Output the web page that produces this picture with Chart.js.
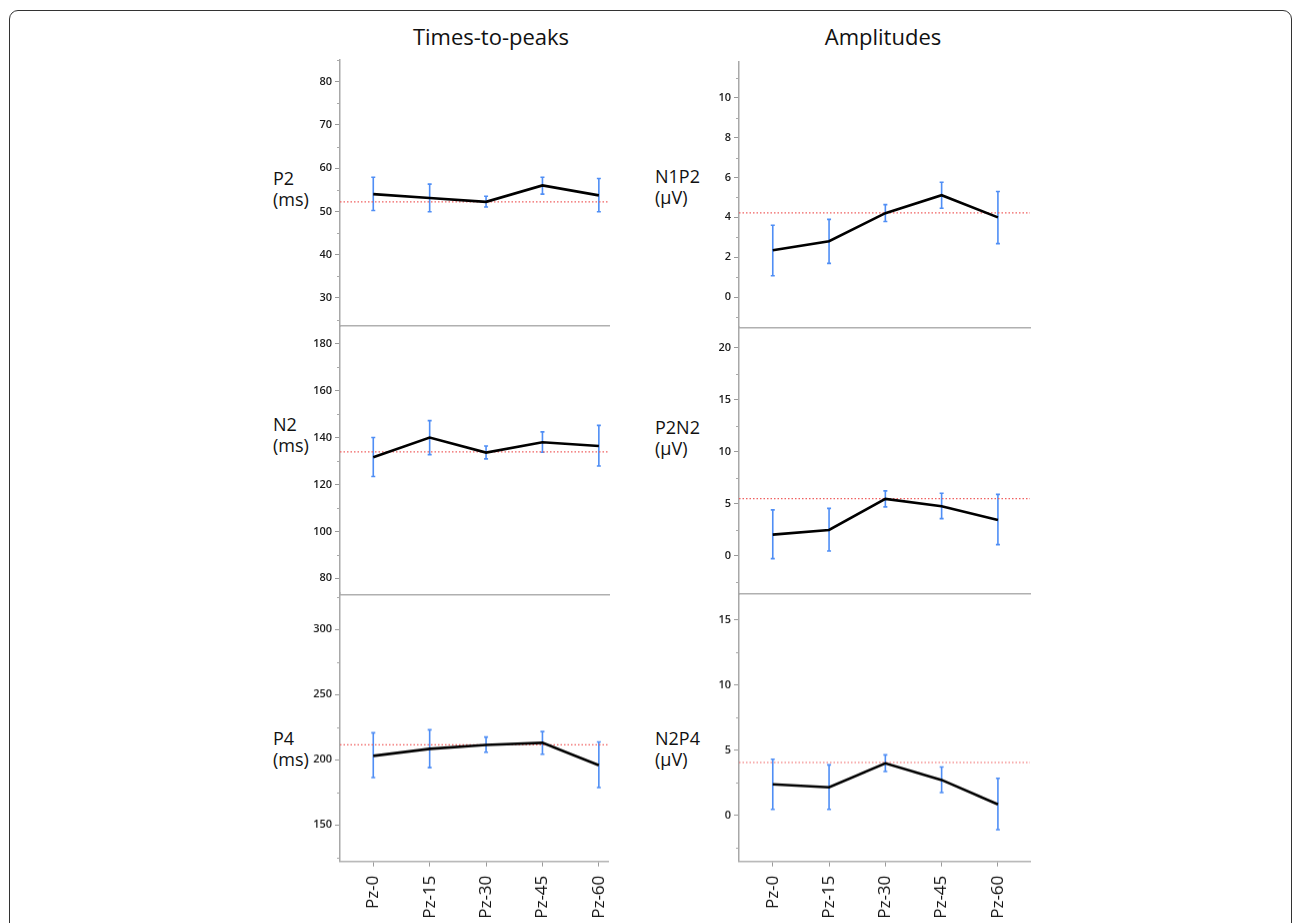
<!DOCTYPE html>
<html>
<head>
<meta charset="utf-8">
<script src="https://cdn.jsdelivr.net/npm/chart.js@4.4.1/dist/chart.umd.min.js"></script>
<style>
  html, body { margin: 0; padding: 0; background: #fff; overflow: hidden; }
  body { width: 1292px; height: 923px; position: relative; font-family: "Open Sans", sans-serif; color: #111; }
  .frame { position: absolute; left: 9px; top: 10px; width: 1283px; height: 1000px; border: 1.5px solid #333; border-radius: 9px; box-sizing: border-box; }
  .title { position: absolute; font-size: 22px; line-height: 26px; white-space: nowrap; transform: translateX(-50%); }
  .ylab { position: absolute; font-size: 18px; line-height: 21px; white-space: nowrap; }
  .panel { position: absolute; }
</style>
</head>
<body>
<div class="frame"></div>
<div class="title" style="left:491px; top:23px;">Times-to-peaks</div>
<div class="title" style="left:883px; top:23px;">Amplitudes</div>

<div class="ylab" style="left:273px; top:168px;">P2<br>(ms)</div>
<div class="ylab" style="left:273px; top:414px;">N2<br>(ms)</div>
<div class="ylab" style="left:273px; top:728px;">P4<br>(ms)</div>
<div class="ylab" style="left:655px; top:166px;">N1P2<br>(µV)</div>
<div class="ylab" style="left:655px; top:417px;">P2N2<br>(µV)</div>
<div class="ylab" style="left:655px; top:728px;">N2P4<br>(µV)</div>

<div class="panel" id="wrapP2"><canvas id="chartP2"></canvas></div>
<div class="panel" id="wrapN2"><canvas id="chartN2"></canvas></div>
<div class="panel" id="wrapP4"><canvas id="chartP4"></canvas></div>
<div class="panel" id="wrapN1P2"><canvas id="chartN1P2"></canvas></div>
<div class="panel" id="wrapP2N2"><canvas id="chartP2N2"></canvas></div>
<div class="panel" id="wrapN2P4"><canvas id="chartN2P4"></canvas></div>

<script>
// Electrode positions
const categories = ['Pz-0', 'Pz-15', 'Pz-30', 'Pz-45', 'Pz-60'];

// Times-to-peaks (ms)
const p2Mean  = [54.0, 53.1, 52.2, 56.0, 53.7];
const p2Upper = [57.9, 56.3, 53.5, 57.9, 57.6];
const p2Lower = [50.2, 49.9, 51.0, 54.0, 49.9];
const p2Ref = 52.2;
const p2Ticks = [30, 40, 50, 60, 70, 80];
const p2Minor = [25, 35, 45, 55, 65, 75, 85];

const n2Mean  = [131.6, 140.0, 133.6, 138.0, 136.4];
const n2Upper = [140.0, 147.2, 136.4, 142.4, 145.2];
const n2Lower = [123.4, 132.7, 130.9, 133.7, 127.9];
const n2Ref = 133.9;
const n2Ticks = [80, 100, 120, 140, 160, 180];
const n2Minor = [90, 110, 130, 150, 170];

const p4Mean  = [202.8, 208.2, 211.2, 212.8, 195.6];
const p4Upper = [220.5, 222.8, 217.2, 221.5, 213.5];
const p4Lower = [186.2, 193.8, 205.6, 204.1, 178.5];
const p4Ref = 211.2;
const p4Ticks = [150, 200, 250, 300];
const p4Minor = [125, 175, 225, 275, 325];

// Amplitudes (µV)
const n1p2Mean  = [2.35, 2.80, 4.21, 5.11, 4.00];
const n1p2Upper = [3.60, 3.90, 4.64, 5.76, 5.30];
const n1p2Lower = [1.07, 1.69, 3.79, 4.46, 2.68];
const n1p2Ref = 4.22;
const n1p2Ticks = [0, 2, 4, 6, 8, 10];
const n1p2Minor = [-1, 1, 3, 5, 7, 9, 11];

const p2n2Mean  = [2.02, 2.47, 5.46, 4.75, 3.44];
const p2n2Upper = [4.40, 4.55, 6.23, 6.00, 5.90];
const p2n2Lower = [-0.29, 0.45, 4.69, 3.56, 1.06];
const p2n2Ref = 5.49;
const p2n2Ticks = [0, 5, 10, 15, 20];
const p2n2Minor = [-2.5, 2.5, 7.5, 12.5, 17.5];

const n2p4Mean  = [2.39, 2.16, 4.00, 2.72, 0.85];
const n2p4Upper = [4.31, 3.88, 4.65, 3.72, 2.85];
const n2p4Lower = [0.46, 0.46, 3.37, 1.75, -1.10];
const n2p4Ref = 4.06;
const n2p4Ticks = [0, 5, 10, 15];
const n2p4Minor = [-2.5, 2.5, 7.5, 12.5];

// layout
const Y_W = 60, PAD_T = 12, PAD_B = 12, PAD_R = 20;
const colLeft  = { left: 340, right: 609, xMin: -0.59, xMax: 4.18 };
const colRight = { left: 739, right: 1030, xMin: -0.60, xMax: 4.57 };

const tickFont = { family: 'Open Sans', size: 11, weight: '600' };

// error bars + short minor ticks on the y axis
const errorBars = {
  id: 'errorBars',
  beforeDatasetsDraw(chart, args, opts) {
    const { ctx } = chart;
    const xs = chart.scales.x, ys = chart.scales.y;
    ctx.save();
    ctx.strokeStyle = '#4f8ef5';
    ctx.lineWidth = 1.6;
    opts.upper.forEach((u, i) => {
      const px = xs.getPixelForValue(i);
      const pu = ys.getPixelForValue(u);
      const pl = ys.getPixelForValue(opts.lower[i]);
      ctx.beginPath();
      ctx.moveTo(px, pu); ctx.lineTo(px, pl);
      ctx.moveTo(px - 2, pu); ctx.lineTo(px + 2, pu);
      ctx.moveTo(px - 2, pl); ctx.lineTo(px + 2, pl);
      ctx.stroke();
    });
    ctx.restore();
  },
  afterDraw(chart, args, opts) {
    const { ctx } = chart;
    const ys = chart.scales.y;
    const left = chart.chartArea.left;
    ctx.save();
    ctx.strokeStyle = '#aaa';
    ctx.lineWidth = 1;
    opts.minor.forEach(v => {
      const py = Math.round(ys.getPixelForValue(v)) + 0.5;
      ctx.beginPath();
      ctx.moveTo(left - 3, py); ctx.lineTo(left, py);
      ctx.stroke();
    });
    ctx.restore();
  }
};

function makePanel(id, col, top, bottom, yMin, yMax, mean, upper, lower, ref, ticks, minor, showX) {
  const xH = showX ? 90 : 0;
  const wrap = document.getElementById('wrap' + id);
  wrap.style.left = (col.left - Y_W) + 'px';
  wrap.style.top = (top - PAD_T) + 'px';
  wrap.style.width = (Y_W + (col.right - col.left) + PAD_R) + 'px';
  wrap.style.height = (PAD_T + (bottom - top) + xH + PAD_B) + 'px';

  return new Chart(document.getElementById('chart' + id), {
    type: 'line',
    data: {
      datasets: [
        {
          data: mean.map((v, i) => ({ x: i, y: v })),
          borderColor: '#000',
          borderWidth: 2.6,
          pointRadius: 0,
          tension: 0,
          order: 0
        },
        {
          data: [{ x: col.xMin, y: ref }, { x: col.xMax, y: ref }],
          borderColor: '#f06060',
          borderWidth: 1.2,
          borderDash: [1.5, 2],
          pointRadius: 0,
          order: 1
        }
      ]
    },
    options: {
      responsive: true,
      maintainAspectRatio: false,
      animation: false,
      events: [],
      layout: { padding: { top: PAD_T, bottom: PAD_B, left: 0, right: PAD_R } },
      plugins: {
        legend: { display: false },
        tooltip: { enabled: false },
        errorBars: { upper: upper, lower: lower, minor: minor }
      },
      scales: {
        x: {
          type: 'linear',
          min: col.xMin,
          max: col.xMax,
          afterBuildTicks: s => { s.ticks = categories.map((c, i) => ({ value: i })); },
          afterFit: s => { s.height = xH; },
          grid: { display: showX, drawOnChartArea: false, drawTicks: true, tickLength: 5, color: '#999' },
          border: { display: true, color: '#b0b0b0', width: 1.5 },
          ticks: {
            display: showX,
            autoSkip: false,
            minRotation: 90,
            maxRotation: 90,
            padding: 9,
            color: '#111',
            font: { family: 'Open Sans', size: 17 },
            callback: v => categories[v]
          }
        },
        y: {
          type: 'linear',
          min: yMin,
          max: yMax,
          afterBuildTicks: s => { s.ticks = ticks.map(v => ({ value: v })); },
          afterFit: s => { s.width = Y_W; },
          grid: { drawOnChartArea: false, drawTicks: true, tickLength: 5, color: '#999' },
          border: { display: true, color: '#a8a8a8', width: 1.5 },
          ticks: { padding: 3, color: '#1a1a1a', font: tickFont, autoSkip: false }
        }
      }
    },
    plugins: [errorBars]
  });
}

makePanel('P2', colLeft, 60, 326, 23.5, 85, p2Mean, p2Upper, p2Lower, p2Ref, p2Ticks, p2Minor, false);
makePanel('N2', colLeft, 326.7, 594, 73.2, 187.1, n2Mean, n2Upper, n2Lower, n2Ref, n2Ticks, n2Minor, false);
makePanel('P4', colLeft, 593.3, 861, 121.8, 327.7, p4Mean, p4Upper, p4Lower, p4Ref, p4Ticks, p4Minor, true);
makePanel('N1P2', colRight, 61.7, 327, -1.52, 11.8, n1p2Mean, n1p2Upper, n1p2Lower, n1p2Ref, n1p2Ticks, n1p2Minor, false);
makePanel('P2N2', colRight, 327.3, 594.3, -3.69, 22.0, p2n2Mean, p2n2Upper, p2n2Lower, p2n2Ref, p2n2Ticks, p2n2Minor, false);
makePanel('N2P4', colRight, 594.3, 861, -3.54, 17.0, n2p4Mean, n2p4Upper, n2p4Lower, n2p4Ref, n2p4Ticks, n2p4Minor, true);
</script>
</body>
</html>
